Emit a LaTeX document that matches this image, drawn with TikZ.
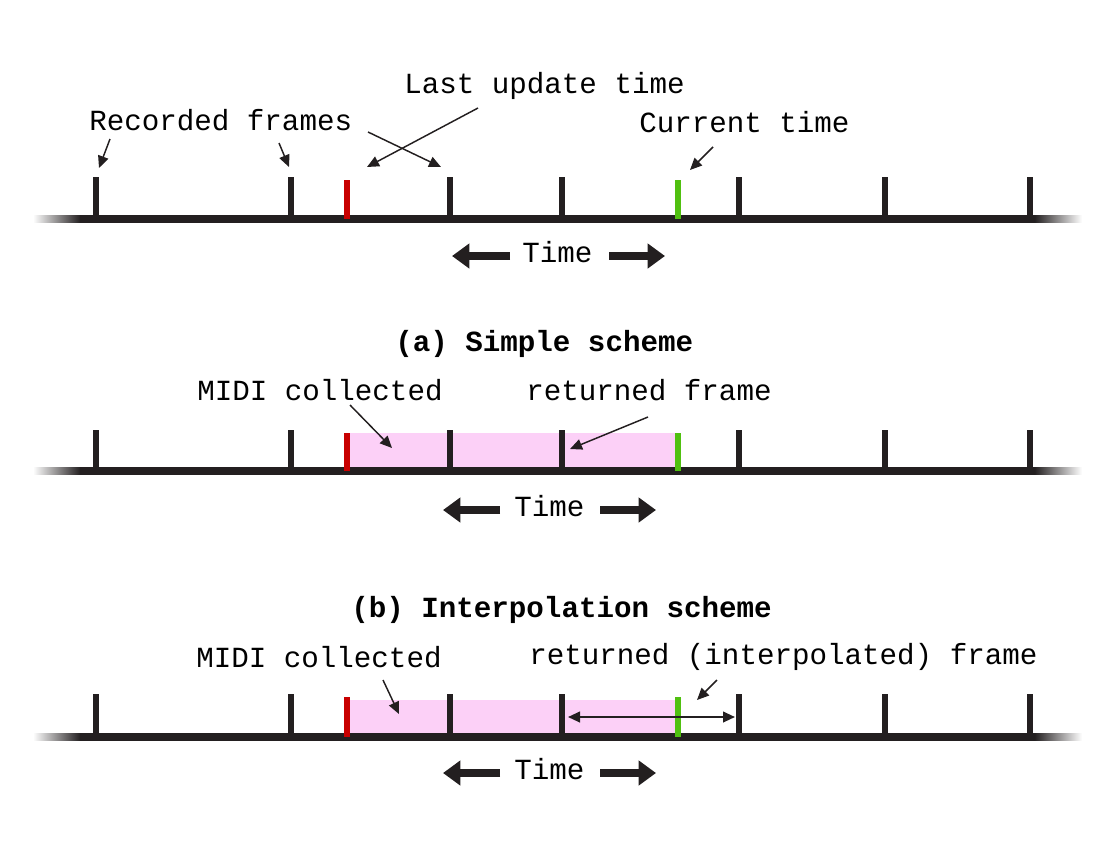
\documentclass[tikz,border=0pt]{standalone}
\usepackage{fontspec}
\newfontfamily\mono{Liberation Mono}
\usetikzlibrary{arrows.meta}
\definecolor{ink}{HTML}{231F20}
\definecolor{redt}{HTML}{C80000}
\definecolor{greent}{HTML}{50C010}
\definecolor{pinkf}{HTML}{FCD0F7}
\tikzset{
 lbl/.style={anchor=base west, inner sep=0pt, text=black, font=\mono\fontsize{21.9}{26}\selectfont},
 ttl/.style={lbl, font=\mono\bfseries\fontsize{21.9}{26}\selectfont},
 axisline/.style={ink, line width=5.8pt},
 framemark/.style={ink, line width=5pt},
 redmark/.style={redt, line width=5pt},
 greenmark/.style={greent, line width=5pt},
 callout/.style={ink, line width=1.1pt, -{Triangle[length=9pt,width=8pt]}},
 timearrow/.style={ink, line width=6pt, -{Triangle[length=13pt,width=18pt]}},
 spanarrow/.style={ink, line width=1.5pt, {Triangle[length=9pt,width=8pt]}-{Triangle[length=9pt,width=8pt]}},
}
\begin{document}
\begin{tikzpicture}[x=0.75pt,y=-0.75pt]
\path[use as bounding box] (0,0) rectangle (1107,851);
% pink regions
\fill[pinkf] (347,433) rectangle (678,471);
\fill[pinkf] (347,700) rectangle (678,737);
% timelines
\foreach \yy/\tt/\ct in {219/177/180, 471/430/433, 737/694/697}{
  \shade[left color=white,right color=ink] (33,\yy-3.9) rectangle (80.5,\yy+3.9);
  \shade[left color=ink,right color=white] (1034.5,\yy-3.9) rectangle (1082,\yy+3.9);
  \draw[axisline] (80,\yy) -- (1035,\yy);
  \foreach \x in {96,291,450,562,739,885,1030}{
    \draw[framemark] (\x,\yy) -- (\x,\tt);
  }
  \draw[redmark] (347,\yy) -- (347,\ct);
  \draw[greenmark] (678,\yy) -- (678,\ct);
}
% labels
\node[lbl] (rec) at (89,130) {Recorded frames};
\node[lbl] (last) at (404,93) {Last update time};
\node[lbl] (cur) at (639,132) {Current time};
\node[lbl] (time1) at (522,262) {Time};
\node[ttl] (ta) at (395,351) {(a) Simple scheme};
\node[lbl] (midiA) at (197,400) {MIDI collected};
\node[lbl] (retA) at (526,400) {returned frame};
\node[lbl] (time2) at (514,516) {Time};
\node[ttl] (tb) at (351,617) {(b) Interpolation scheme};
\node[lbl] (midiB) at (196,667) {MIDI collected};
\node[lbl] (retB) at (529,664) {returned (interpolated) frame};
\node[lbl] (time3) at (514,779) {Time};
% callout arrows
\coordinate (a1s) at (110,139); \coordinate (a1e) at (99,168);
\coordinate (a2s) at (279,143); \coordinate (a2e) at (289,167);
\coordinate (a3s) at (368,132); \coordinate (a3e) at (441,167);
\coordinate (a4s) at (478,108); \coordinate (a4e) at (367,167);
\coordinate (a5s) at (713,147); \coordinate (a5e) at (690,170);
\coordinate (a6s) at (350,405); \coordinate (a6e) at (392,448);
\coordinate (a7s) at (648,417); \coordinate (a7e) at (570,449);
\coordinate (a8s) at (383,680); \coordinate (a8e) at (399,714);
\coordinate (a9s) at (717,680); \coordinate (a9e) at (697,700);
\foreach \i in {1,...,9}{\draw[callout] (a\i s) -- (a\i e);}
% interpolation span
\coordinate (spL) at (568,717); \coordinate (spR) at (735,717);
\draw[spanarrow] (spL) -- (spR);
% time arrows
\coordinate (t1lt) at (510,256); \coordinate (t1lh) at (452,256);
\coordinate (t1rt) at (609,256); \coordinate (t1rh) at (665,256);
\coordinate (t2lt) at (500,510); \coordinate (t2lh) at (443,510);
\coordinate (t2rt) at (600,510); \coordinate (t2rh) at (656,510);
\coordinate (t3lt) at (500,773); \coordinate (t3lh) at (443,773);
\coordinate (t3rt) at (600,773); \coordinate (t3rh) at (656,773);
\foreach \i in {1,2,3}{
  \draw[timearrow] (t\i lt) -- (t\i lh);
  \draw[timearrow] (t\i rt) -- (t\i rh);
}
\end{tikzpicture}
\end{document}
